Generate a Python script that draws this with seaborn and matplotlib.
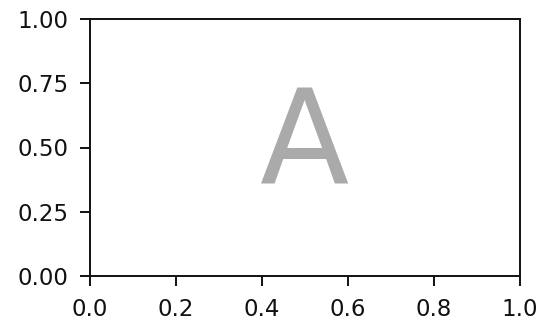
import numpy as np
import seaborn as sns
import matplotlib
matplotlib.use("Agg")
import matplotlib.pyplot as plt

# chart content
label = "A"
xticks = [0.0, 0.2, 0.4, 0.6, 0.8, 1.0]
yticks = [0.00, 0.25, 0.50, 0.75, 1.00]

fig = plt.figure(figsize=(5.45, 3.21), dpi=100)
ax = fig.add_axes([90 / 545, 1 - 276 / 321, 430 / 545, 257 / 321])

ax.set_xlim(0, 1)
ax.set_ylim(0, 1)
ax.set_xticks(xticks)
ax.set_yticks(yticks)
ax.set_xticklabels([f"{v:.1f}" for v in xticks])
ax.set_yticklabels([f"{v:.2f}" for v in yticks])
ax.tick_params(labelsize=16.5, length=7.5, width=1.4, pad=8, colors="#111111")
for s in ax.spines.values():
    s.set_linewidth(1.4)
    s.set_color("#111111")
sns.despine(ax=ax, top=False, right=False)

ax.text(0.5, 0.5, label, transform=ax.transAxes, ha="center", va="center",
        fontsize=94, color="#aaaaaa")

fig.savefig("out.png", dpi=100)
